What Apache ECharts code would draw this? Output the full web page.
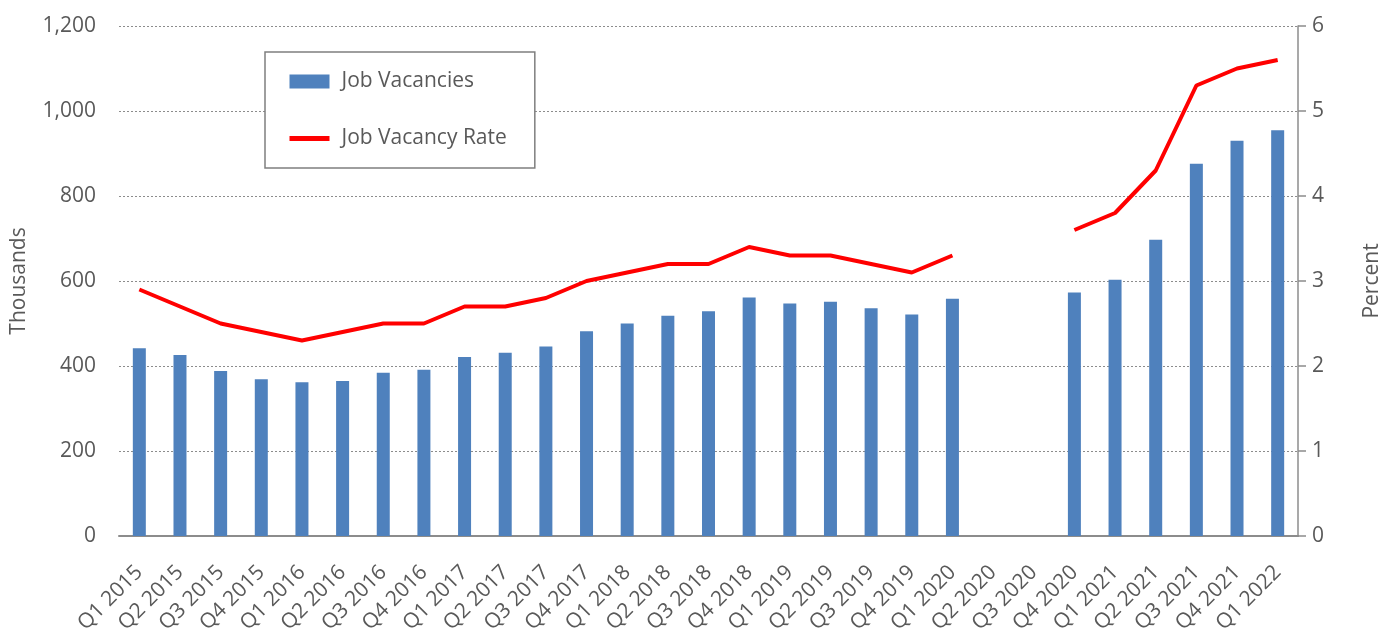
<!DOCTYPE html>
<html><head><meta charset="utf-8">
<script src="https://cdn.jsdelivr.net/npm/echarts@6/dist/echarts.min.js"></script>
<style>html,body{margin:0;padding:0;background:#fff}#c{width:1380px;height:630px}</style>
</head><body><div id="c"></div>
<script>
const categories = ['Q1 2015','Q2 2015','Q3 2015','Q4 2015','Q1 2016','Q2 2016','Q3 2016','Q4 2016','Q1 2017','Q2 2017','Q3 2017','Q4 2017','Q1 2018','Q2 2018','Q3 2018','Q4 2018','Q1 2019','Q2 2019','Q3 2019','Q4 2019','Q1 2020','Q2 2020','Q3 2020','Q4 2020','Q1 2021','Q2 2021','Q3 2021','Q4 2021','Q1 2022'];
const jobVacancies = [442,426,388,369,362,365,384,391,421,431,446,482,500,518,529,561,547,551,536,521,558,null,null,573,603,697,876,930,955];
const jobVacancyRate = [2.9,2.7,2.5,2.4,2.3,2.4,2.5,2.5,2.7,2.7,2.8,3.0,3.1,3.2,3.2,3.4,3.3,3.3,3.2,3.1,3.3,null,null,3.6,3.8,4.3,5.3,5.5,5.6];
const leftTicks = [0,200,400,600,800,1000,1200];
const rightTicks = [0,1,2,3,4,5,6];

const FONT = '"Open Sans", "DejaVu Sans", sans-serif';
const TXT = '#595959';
const chart = echarts.init(document.getElementById('c'));
chart.setOption({
  animation: false,
  textStyle: {fontFamily: FONT, color: TXT},
  grid: {left: 119, right: 82, top: 26, bottom: 94, containLabel: false, outerBoundsMode: 'none'},
  legend: {
    orient: 'vertical', left: 265, top: 52,
    padding: [19, 28, 19, 22], itemGap: 36,
    borderColor: '#7f7f7f', borderWidth: 1.5, backgroundColor: '#fff',
    itemWidth: 40, itemHeight: 14,
    lineStyle: {width: 5},
    textStyle: {fontFamily: FONT, fontSize: 21, color: TXT, padding: [0,0,0,7]},
    data: [
      {name: 'Job Vacancies', icon: 'rect'},
      {name: 'Job Vacancy Rate', itemStyle: {opacity: 0, color: 'transparent', borderWidth: 0}}
    ]
  },
  xAxis: {
    type: 'category', data: categories,
    axisLine: {lineStyle: {color: '#8c8c8c', width: 2}},
    axisTick: {show: false},
    axisLabel: {rotate: 45, fontSize: 21, color: TXT, fontFamily: FONT, margin: 33, interval: 0}
  },
  yAxis: [
    {type: 'value', min: 0, max: 1200, interval: 200, position: 'left',
     name: 'Thousands', nameLocation: 'middle', nameGap: 89,
     nameTextStyle: {fontSize: 21, color: TXT, fontFamily: FONT},
     axisLine: {show: false}, axisTick: {show: false},
     axisLabel: {fontSize: 21, color: TXT, fontFamily: FONT, margin: 23,
       formatter: v => leftTicks.includes(v) ? v.toLocaleString('en-US') : ''},
     splitLine: {lineStyle: {color: '#8c8c8c', type: [2,2], width: 1}}},
    {type: 'value', min: 0, max: 6, interval: 1, position: 'right',
     name: 'Percent', nameLocation: 'middle', nameGap: 64,
     nameTextStyle: {fontSize: 21, color: TXT, fontFamily: FONT},
     axisLine: {show: true, lineStyle: {color: '#8c8c8c', width: 1.5}},
     axisTick: {show: true, length: 8, lineStyle: {color: '#8c8c8c', width: 1.5}},
     axisLabel: {fontSize: 21, color: TXT, fontFamily: FONT, margin: 14,
       formatter: v => rightTicks.includes(v) ? String(v) : ''},
     splitLine: {show: false}}
  ],
  series: [
    {name: 'Job Vacancies', type: 'bar', data: jobVacancies, yAxisIndex: 0,
     barWidth: 13, itemStyle: {color: '#4f81bd'}},
    {name: 'Job Vacancy Rate', type: 'line', data: jobVacancyRate, yAxisIndex: 1,
     symbol: 'none', connectNulls: false,
     lineStyle: {color: '#ff0000', width: 4}, itemStyle: {color: '#ff0000'}}
  ]
});
</script></body></html>
